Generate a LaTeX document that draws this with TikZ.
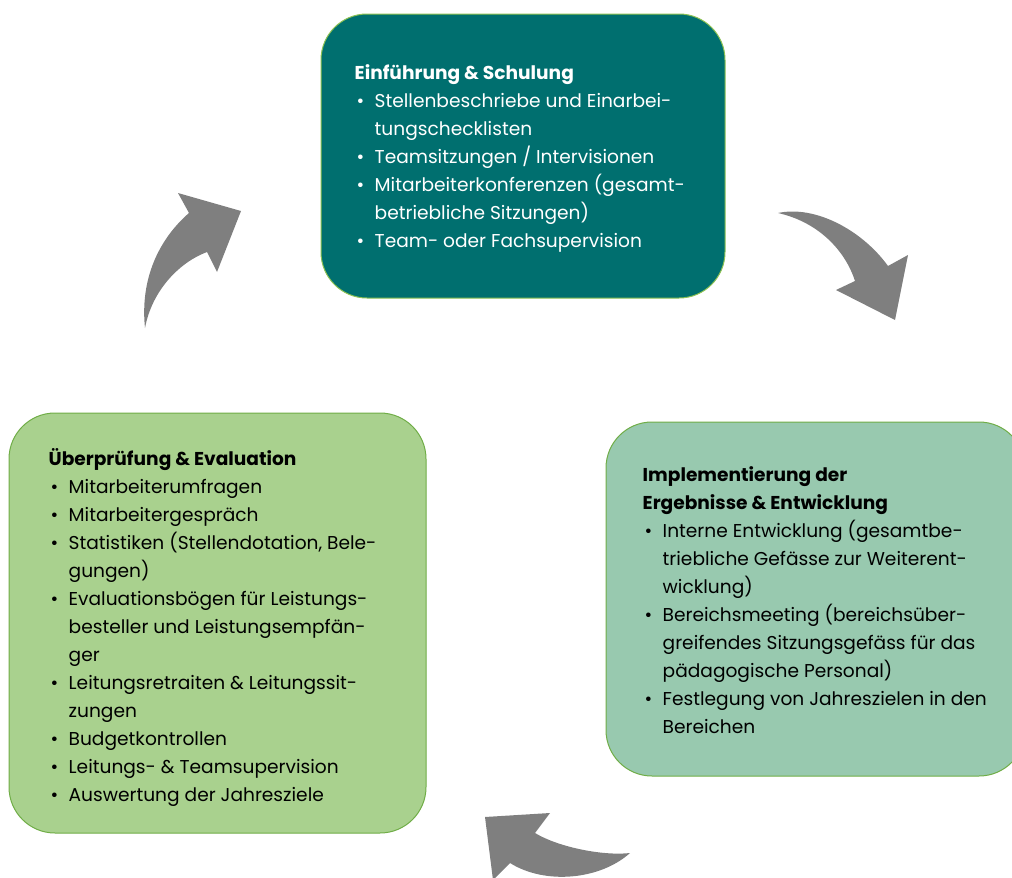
\documentclass[tikz,border=0pt]{standalone}
\usepackage{fontspec}
\setmainfont{Poppins}
\usepackage{xcolor}
\usepackage{tikz}
\usetikzlibrary{positioning}

\definecolor{introfill}{RGB}{0,111,111}
\definecolor{introline}{RGB}{140,193,82}
\definecolor{implfill}{RGB}{152,201,175}
\definecolor{evalfill}{RGB}{169,209,142}
\definecolor{boxline}{RGB}{112,173,71}
\definecolor{arrowgray}{RGB}{127,127,127}

\newcommand{\bul}{\hspace*{2pt}\makebox[18pt][l]{\textbullet}}
\newcommand{\cont}{\hspace*{20pt}}

\begin{document}
\begin{tikzpicture}[x=1pt,y=-1pt,
  box/.style={rectangle,rounded corners=46pt,draw=boxline,line width=1pt,inner sep=0pt},
  txt/.style={anchor=north west,align=left,inner sep=0pt,font=\fontsize{18.6}{28}\selectfont},
  bent/.style={fill=arrowgray}]
\clip (0,0) rectangle (1012,878);

% boxes
\node[box,draw=introline,fill=introfill,minimum width=404pt,minimum height=284pt] (intro) at (523,156) {};
\node[box,fill=implfill,minimum width=419pt,minimum height=354pt] (impl) at (815.5,599) {};
\node[box,fill=evalfill,minimum width=417pt,minimum height=420pt] (eval) at (217.5,623) {};

% texts
\node[txt,text=white] (introtxt) at ([xshift=34pt,yshift=-51pt]intro.north west)
  {\textbf{Einführung \& Schulung}\\
   \bul Stellenbeschriebe und Einarbei-\\
   \cont tungschecklisten\\
   \bul Teamsitzungen / Intervisionen\\
   \bul Mitarbeiterkonferenzen (gesamt-\\
   \cont betriebliche Sitzungen)\\
   \bul Team- oder Fachsupervision};
\node[txt] (impltxt) at ([xshift=37pt,yshift=-45pt]impl.north west)
  {\textbf{Implementierung der}\\
   \textbf{Ergebnisse \& Entwicklung}\\
   \bul Interne Entwicklung (gesamtbe-\\
   \cont triebliche Gefässe zur Weiterent-\\
   \cont wicklung)\\
   \bul Bereichsmeeting (bereichsüber-\\
   \cont greifendes Sitzungsgefäss für das\\
   \cont pädagogische Personal)\\
   \bul Festlegung von Jahreszielen in den\\
   \cont Bereichen};
\node[txt] (evaltxt) at ([xshift=40pt,yshift=-36pt]eval.north west)
  {\textbf{Überprüfung \& Evaluation}\\
   \bul Mitarbeiterumfragen\\
   \bul Mitarbeitergespräch\\
   \bul Statistiken (Stellendotation, Bele-\\
   \cont gungen)\\
   \bul Evaluationsbögen für Leistungs-\\
   \cont besteller und Leistungsempfän-\\
   \cont ger\\
   \bul Leitungsretraiten \& Leitungssit-\\
   \cont zungen\\
   \bul Budgetkontrollen\\
   \bul Leitungs- \& Teamsupervision\\
   \bul Auswertung der Jahresziele};

% curved arrows
\fill[bent] (145,328) .. controls (140,280) and (158,240) .. (189,213)
  -- (178,193) -- (241,211) -- (217,272) -- (207,252)
  .. controls (180,262) and (152,290) .. cycle;
\fill[bent] (778,213) .. controls (815,205) and (862,230) .. (888,266)
  -- (908,255) -- (895,320) -- (836,290) -- (855,281)
  .. controls (845,250) and (818,222) .. cycle;
\fill[bent] (630,853) .. controls (605,856) and (560,848) .. (535,833)
  -- (550,813) -- (485,817) -- (493,880) -- (510,863)
  .. controls (545,885) and (600,880) .. cycle;
\end{tikzpicture}
\end{document}
